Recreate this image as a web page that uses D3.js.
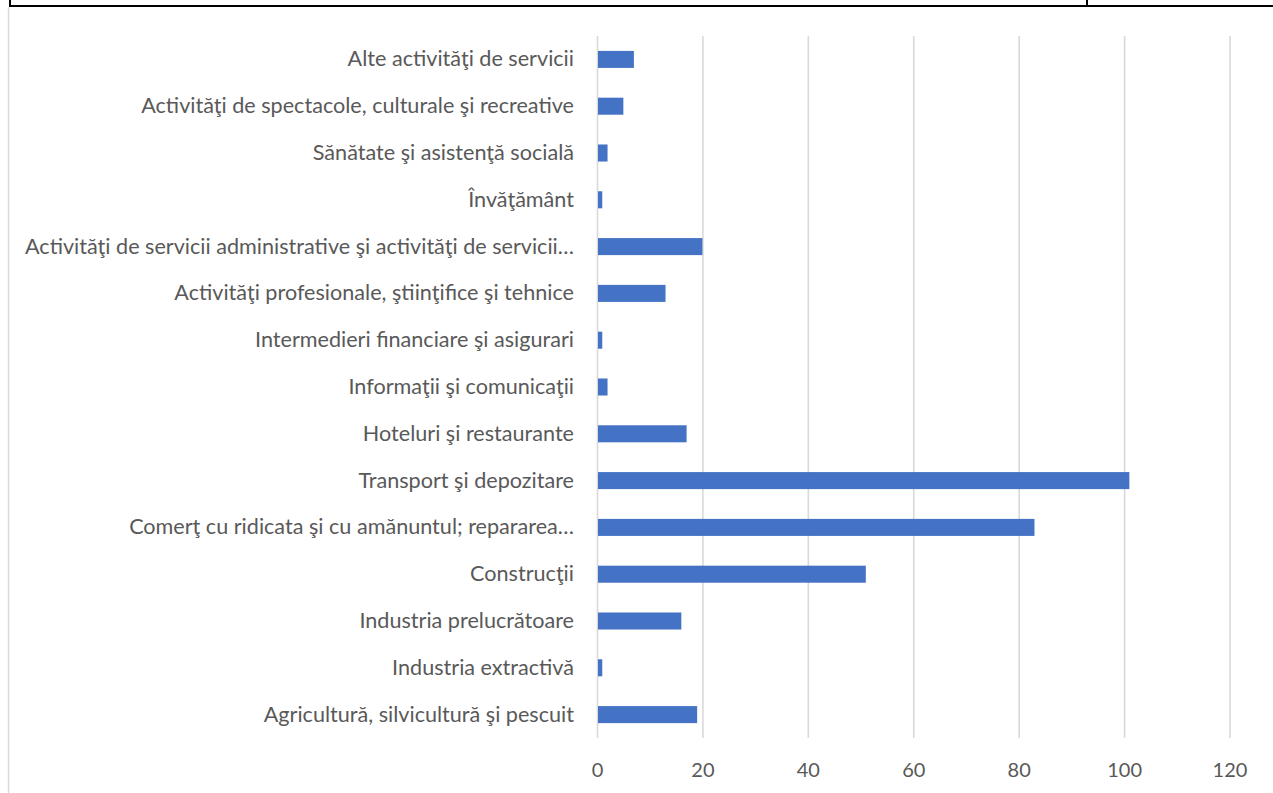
<!DOCTYPE html>
<meta charset="utf-8">
<script src="https://d3js.org/d3.v7.min.js"></script>
<style>
  body { margin: 0; background: #fff; }
  svg text { font-family: Lato, "Open Sans", sans-serif; fill: #595959; }
</style>
<div id="my_dataviz"></div>
<script>
// categories, top to bottom as drawn
let categories = [
  "Alte activităţi de servicii",
  "Activităţi de spectacole, culturale şi recreative",
  "Sănătate şi asistenţă socială",
  "Învăţământ",
  "Activităţi de servicii administrative şi activităţi de servicii…",
  "Activităţi profesionale, ştiinţifice şi tehnice",
  "Intermedieri financiare şi asigurari",
  "Informaţii şi comunicaţii",
  "Hoteluri şi restaurante",
  "Transport şi depozitare",
  "Comerţ cu ridicata şi cu amănuntul; repararea…",
  "Construcţii",
  "Industria prelucrătoare",
  "Industria extractivă",
  "Agricultură, silvicultură şi pescuit"
];
let values = [7, 5, 2, 1, 20, 13, 1, 2, 17, 101, 83, 51, 16, 1, 19];
let xTicks = [0, 20, 40, 60, 80, 100, 120];

let W = 1273, H = 793;
let plot = {left: 597, right: 1229.5, top: 36, bottom: 738};

let svg = d3.select("#my_dataviz")
  .append("svg")
  .attr("width", W)
  .attr("height", H);

// page frame bits (table border above, chart border at left)
svg.append("line").attr("x1", 9).attr("x2", W).attr("y1", 6).attr("y2", 6)
  .attr("stroke", "#000").attr("stroke-width", 2);
svg.append("line").attr("x1", 10).attr("x2", 10).attr("y1", 0).attr("y2", 6)
  .attr("stroke", "#000").attr("stroke-width", 2);
svg.append("line").attr("x1", 1087).attr("x2", 1087).attr("y1", 0).attr("y2", 6)
  .attr("stroke", "#000").attr("stroke-width", 2);
svg.append("line").attr("x1", 8.5).attr("x2", 8.5).attr("y1", 7).attr("y2", H)
  .attr("stroke", "#d9d9d9").attr("stroke-width", 1.5);

let x = d3.scaleLinear()
  .domain([0, 120])
  .range([plot.left, plot.right]);

let y = d3.scaleBand()
  .domain(categories)
  .range([plot.top, plot.bottom])
  .paddingInner(0.636)
  .paddingOuter(0.318);

// vertical gridlines
let grid = svg.append("g")
  .attr("transform", "translate(0," + plot.bottom + ")")
  .call(d3.axisBottom(x)
    .tickValues(xTicks)
    .tickSize(-(plot.bottom - plot.top))
    .tickFormat(""));
grid.select(".domain").remove();
grid.selectAll("line").attr("stroke", "#d9d9d9").attr("stroke-width", 1.6);

// x tick labels
let xAxis = svg.append("g")
  .attr("transform", "translate(0," + plot.bottom + ")")
  .call(d3.axisBottom(x).tickValues(xTicks).tickSize(0).tickPadding(25));
xAxis.select(".domain").remove();
xAxis.selectAll("text")
  .style("font-size", "20px")
  .attr("fill", "#595959");

// bars
svg.append("g")
  .selectAll("rect")
  .data(values)
  .join("rect")
  .attr("x", x(0) + 1)
  .attr("y", (d, i) => y(categories[i]))
  .attr("width", d => x(d) - x(0) - 1)
  .attr("height", y.bandwidth())
  .attr("fill", "#4472c4");

// category labels
let yAxis = svg.append("g")
  .attr("transform", "translate(" + plot.left + ",0)")
  .call(d3.axisLeft(y).tickSize(0).tickPadding(23));
yAxis.select(".domain").remove();
yAxis.selectAll("text")
  .style("font-size", "21.6px")
  .attr("fill", "#595959");
</script>
